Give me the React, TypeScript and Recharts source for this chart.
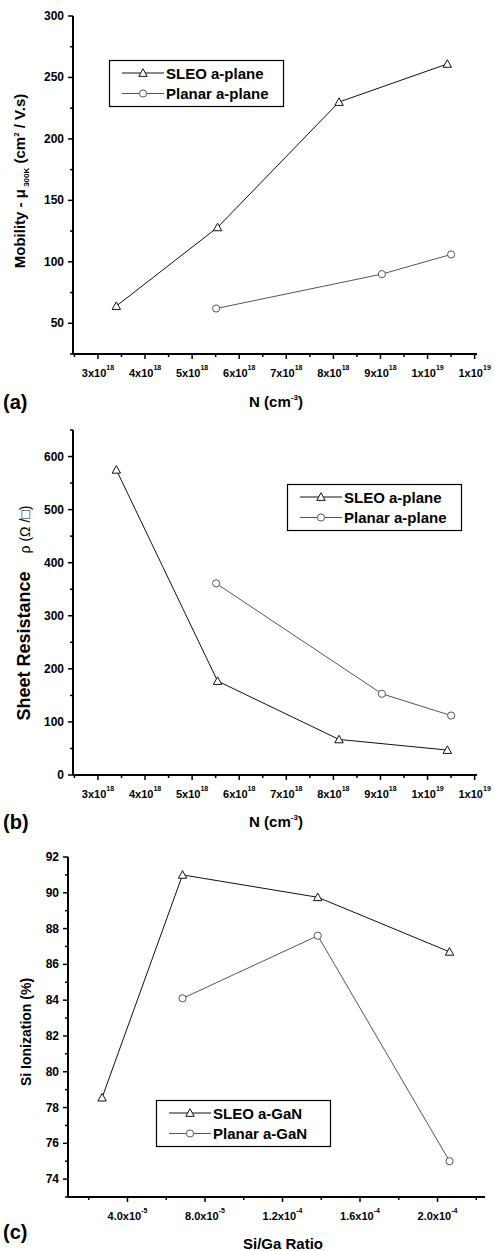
import React from 'react';
import { LineChart, Line, XAxis, YAxis } from 'recharts';

// ---------- Data ----------
// (a) & (b): carrier concentration N, in units of 1e18 cm^-3
const nSleo = [3.39, 5.54, 8.12, 10.42];
const nPlanar = [5.51, 9.03, 10.5];
// (a) mobility (cm^2/V.s)
const muSleo = [64, 128, 230, 261];
const muPlanar = [62, 90, 106];
// (b) sheet resistance (ohm/sq)
const rhoSleo = [575, 177, 67, 47];
const rhoPlanar = [361, 153, 112];
// (c) Si/Ga ratio in units of 1e-5
const ratioSleo = [2.69, 6.84, 13.82, 20.62];
const ratioPlanar = [6.84, 13.82, 20.62];
// (c) Si ionization (%)
const ionSleo = [78.55, 91.0, 89.75, 86.7];
const ionPlanar = [84.1, 87.6, 75.0];

// ---------- Ticks ----------
const nMajor = [3, 4, 5, 6, 7, 8, 9, 10, 11];
const nMinor = [2.5, 3.5, 4.5, 5.5, 6.5, 7.5, 8.5, 9.5, 10.5];
const nTickBase = ['3x10', '4x10', '5x10', '6x10', '7x10', '8x10', '9x10', '1x10', '1x10'];
const nTickExp = ['18', '18', '18', '18', '18', '18', '18', '19', '19'];

const muMajor = [50, 100, 150, 200, 250, 300];
const muMinor = [25, 75, 125, 175, 225, 275];
const rhoMajor = [0, 100, 200, 300, 400, 500, 600];
const rhoMinor = [50, 150, 250, 350, 450, 550, 650];

const ratioMajor = [4, 8, 12, 16, 20];
const ratioMinor = [2, 6, 10, 14, 18, 22];
const ratioTickBase = ['4.0x10', '8.0x10', '1.2x10', '1.6x10', '2.0x10'];
const ratioTickExp = ['-5', '-5', '-4', '-4', '-4'];

const ionMajor = [74, 76, 78, 80, 82, 84, 86, 88, 90, 92];
const ionMinor = [73, 75, 77, 79, 81, 83, 85, 87, 89, 91];

// Legend labels
const legendAB = ['SLEO a-plane', 'Planar a-plane'];
const legendC = ['SLEO a-GaN', 'Planar a-GaN'];

const FONT = '"Liberation Sans", Arial, Helvetica, sans-serif';
const SLEO_COLOR = '#111';
const PLANAR_COLOR = '#555';

const toRows = (xs: number[], ys: number[]) => xs.map((x, i) => ({ x, y: ys[i] }));

const Triangle = (props: any) => {
  const { cx, cy, stroke } = props;
  if (cx == null || cy == null) return null;
  const s = 4.2;
  return (
    <path
      d={`M${cx},${cy - s} L${cx + s},${cy + s * 0.8} L${cx - s},${cy + s * 0.8} Z`}
      fill="#fff"
      stroke={stroke || '#000'}
      strokeWidth={1}
    />
  );
};

const Circle = (props: any) => {
  const { cx, cy, stroke } = props;
  if (cx == null || cy == null) return null;
  return <circle cx={cx} cy={cy} r={3.6} fill="#fff" stroke={stroke || '#000'} strokeWidth={1} />;
};

const makeXTick = (majors: number[], bases: string[], exps: string[]) => (props: any) => {
  const { x, y, payload } = props;
  const idx = majors.indexOf(payload.value);
  const isMajor = idx >= 0;
  return (
    <g>
      <line x1={x} x2={x} y1={y} y2={y + (isMajor ? 5 : 3)} stroke="#000" strokeWidth={1.5} />
      {isMajor && (
        <text x={x} y={y + 23} textAnchor="middle" fontFamily={FONT} fontWeight="bold" fontSize={11} fill="#000">
          {bases[idx]}
          <tspan dy={-7} fontSize={7}>{exps[idx]}</tspan>
        </text>
      )}
    </g>
  );
};

const makeYTick = (majors: number[]) => (props: any) => {
  const { x, y, payload } = props;
  const isMajor = majors.indexOf(payload.value) >= 0;
  return (
    <g>
      <line x1={x} x2={x - (isMajor ? 5 : 3)} y1={y} y2={y} stroke="#000" strokeWidth={1.5} />
      {isMajor && (
        <text x={x - 9} y={y + 4} textAnchor="end" fontFamily={FONT} fontWeight="bold" fontSize={12} fill="#000">
          {payload.value}
        </text>
      )}
    </g>
  );
};

const LegendBox = ({ left, top, labels }: { left: number; top: number; labels: string[] }) => (
  <svg
    width={176}
    height={48}
    style={{ position: 'absolute', left, top, overflow: 'visible' }}
  >
    <rect x={0.5} y={0.5} width={174} height={46} fill="#fff" stroke="#000" strokeWidth={1.2} />
    <line x1={13} x2={55} y1={13} y2={13} stroke={SLEO_COLOR} strokeWidth={1} />
    <Triangle cx={34} cy={13} stroke={SLEO_COLOR} />
    <text x={57} y={18.5} fontFamily={FONT} fontWeight="bold" fontSize={15} fill="#000">{labels[0]}</text>
    <line x1={13} x2={55} y1={33.5} y2={33.5} stroke={PLANAR_COLOR} strokeWidth={1} />
    <Circle cx={34} cy={33.5} stroke={PLANAR_COLOR} />
    <text x={57} y={39} fontFamily={FONT} fontWeight="bold" fontSize={15} fill="#000">{labels[1]}</text>
  </svg>
);

const axisLine = { stroke: '#000', strokeWidth: 2 };

export default function App() {
  const aSleo = toRows(nSleo, muSleo);
  const aPlanar = toRows(nPlanar, muPlanar);
  const bSleo = toRows(nSleo, rhoSleo);
  const bPlanar = toRows(nPlanar, rhoPlanar);
  const cSleo = toRows(ratioSleo, ionSleo);
  const cPlanar = toRows(ratioPlanar, ionPlanar);

  const nXTick = makeXTick(nMajor, nTickBase, nTickExp);
  const rXTick = makeXTick(ratioMajor, ratioTickBase, ratioTickExp);

  const nTicks = [...nMajor, ...nMinor].sort((p, q) => p - q);

  return (
    <div style={{ position: 'absolute', left: 0, top: 0, width: 495, height: 1251, background: '#fff', fontFamily: FONT }}>
      {/* Panel (a) */}
      <div style={{ position: 'absolute', left: 0, top: 0 }}>
        <LineChart width={495} height={420} margin={{ top: 16, right: 18, bottom: 36, left: 13 }}>
          <XAxis
            type="number"
            dataKey="x"
            domain={[2.47, 11.05]}
            ticks={nTicks}
            interval={0}
            allowDataOverflow
            axisLine={axisLine}
            tickLine={false}
            tickSize={0}
            tickMargin={0}
            tick={nXTick}
            height={30}
          />
          <YAxis
            type="number"
            dataKey="y"
            domain={[25, 300]}
            ticks={[...muMajor, ...muMinor].sort((p, q) => p - q)}
            interval={0}
            allowDataOverflow
            axisLine={axisLine}
            tickLine={false}
            tickSize={0}
            tickMargin={0}
            tick={makeYTick(muMajor)}
            width={60}
          />
          <Line data={aSleo} dataKey="y" stroke={SLEO_COLOR} strokeWidth={1} dot={<Triangle stroke={SLEO_COLOR} />} isAnimationActive={false} />
          <Line data={aPlanar} dataKey="y" stroke={PLANAR_COLOR} strokeWidth={1} dot={<Circle stroke={PLANAR_COLOR} />} isAnimationActive={false} />
        </LineChart>
      </div>

      {/* Panel (b) */}
      <div style={{ position: 'absolute', left: 0, top: 420 }}>
        <LineChart width={495} height={420} margin={{ top: 10, right: 18, bottom: 35, left: 13 }}>
          <XAxis
            type="number"
            dataKey="x"
            domain={[2.47, 11.05]}
            ticks={nTicks}
            interval={0}
            allowDataOverflow
            axisLine={axisLine}
            tickLine={false}
            tickSize={0}
            tickMargin={0}
            tick={nXTick}
            height={30}
          />
          <YAxis
            type="number"
            dataKey="y"
            domain={[0, 650]}
            ticks={[...rhoMajor, ...rhoMinor].sort((p, q) => p - q)}
            interval={0}
            allowDataOverflow
            axisLine={axisLine}
            tickLine={false}
            tickSize={0}
            tickMargin={0}
            tick={makeYTick(rhoMajor)}
            width={60}
          />
          <Line data={bSleo} dataKey="y" stroke={SLEO_COLOR} strokeWidth={1} dot={<Triangle stroke={SLEO_COLOR} />} isAnimationActive={false} />
          <Line data={bPlanar} dataKey="y" stroke={PLANAR_COLOR} strokeWidth={1} dot={<Circle stroke={PLANAR_COLOR} />} isAnimationActive={false} />
        </LineChart>
      </div>

      {/* Panel (c) */}
      <div style={{ position: 'absolute', left: 0, top: 830 }}>
        <LineChart width={495} height={421} margin={{ top: 27, right: 10, bottom: 24, left: 8 }}>
          <XAxis
            type="number"
            dataKey="x"
            domain={[0.93, 22.45]}
            ticks={[...ratioMajor, ...ratioMinor].sort((p, q) => p - q)}
            interval={0}
            allowDataOverflow
            axisLine={axisLine}
            tickLine={false}
            tickSize={0}
            tickMargin={0}
            tick={rXTick}
            height={30}
          />
          <YAxis
            type="number"
            dataKey="y"
            domain={[73, 92]}
            ticks={[...ionMajor, ...ionMinor].sort((p, q) => p - q)}
            interval={0}
            allowDataOverflow
            axisLine={axisLine}
            tickLine={false}
            tickSize={0}
            tickMargin={0}
            tick={makeYTick(ionMajor)}
            width={60}
          />
          <Line data={cSleo} dataKey="y" stroke={SLEO_COLOR} strokeWidth={1} dot={<Triangle stroke={SLEO_COLOR} />} isAnimationActive={false} />
          <Line data={cPlanar} dataKey="y" stroke={PLANAR_COLOR} strokeWidth={1} dot={<Circle stroke={PLANAR_COLOR} />} isAnimationActive={false} />
        </LineChart>
      </div>

      {/* Legends */}
      <LegendBox left={109} top={60} labels={legendAB} />
      <LegendBox left={287} top={484} labels={legendAB} />
      <LegendBox left={156} top={1100} labels={legendC} />

      {/* Titles and panel letters */}
      <svg width={495} height={1251} style={{ position: 'absolute', left: 0, top: 0, pointerEvents: 'none' }}>
        <g fontFamily={FONT} fontWeight="bold" fill="#000">
          {/* (a) */}
          <text x={3} y={409} fontSize={20}>(a)</text>
          <text x={276} y={407} fontSize={15} textAnchor="middle">
            N (cm<tspan dy={-7} fontSize={8}>-3</tspan><tspan dy={7}>)</tspan>
          </text>
          <text transform="translate(25,181) rotate(-90)" fontSize={15} textAnchor="middle">
            Mobility - μ<tspan dy={4} fontSize={8}> 300K</tspan>
            <tspan dy={-4}> (cm</tspan>
            <tspan dy={-6} fontSize={8}>2</tspan>
            <tspan dy={6}> / V.s)</tspan>
          </text>

          {/* (b) */}
          <text x={3} y={829} fontSize={20}>(b)</text>
          <text x={276} y={827} fontSize={15} textAnchor="middle">
            N (cm<tspan dy={-7} fontSize={8}>-3</tspan><tspan dy={7}>)</tspan>
          </text>
          <text transform="translate(30,613) rotate(-90)" textAnchor="middle">
            <tspan fontSize={18}>Sheet Resistance</tspan>
            <tspan fontSize={14} fontWeight="normal" dx={18}>ρ (Ω /□)</tspan>
          </text>

          {/* (c) */}
          <text x={3} y={1239} fontSize={20}>(c)</text>
          <text x={283} y={1249} fontSize={15} textAnchor="middle">Si/Ga Ratio</text>
          <text transform="translate(31,1032) rotate(-90)" fontSize={14} textAnchor="middle">Si Ionization (%)</text>
        </g>
      </svg>
    </div>
  );
}
